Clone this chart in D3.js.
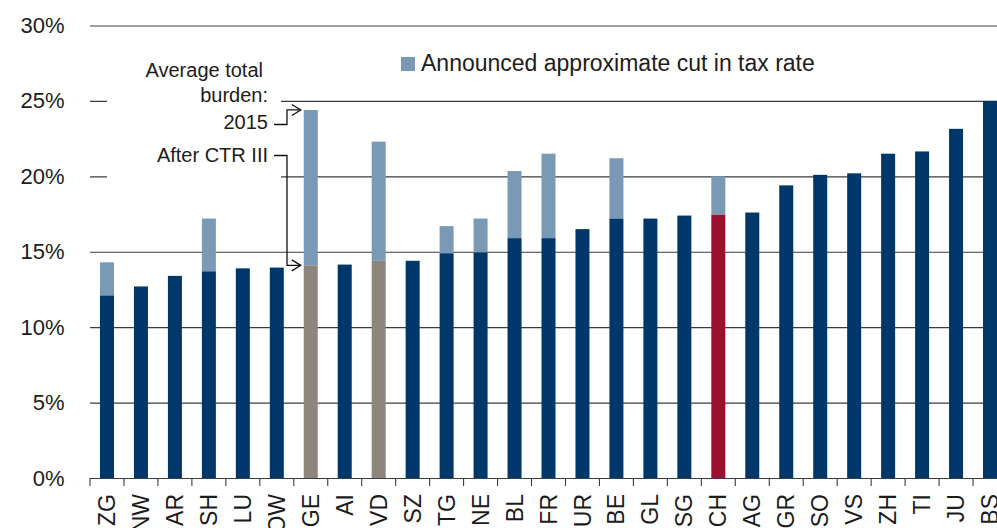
<!DOCTYPE html>
<html>
<head>
<meta charset="utf-8">
<script src="https://cdn.jsdelivr.net/npm/d3@7"></script>
<style>
  body { margin: 0; background: #fff; }
  svg { display: block; font-family: "Liberation Sans", Arial, sans-serif; }
</style>
</head>
<body>
<div id="chart"></div>
<script>

// Cantons, sorted by effective tax burden after CTR III:
var cantons = ['ZG','NW','AR','SH','LU','OW','GE','AI','VD','SZ','TG','NE','BL','FR','UR','BE','GL','SG','CH','AG','GR','SO','VS','ZH','TI','JU','BS'];

// Average total burden after CTR III (%):
var afterCTR = [12.1,12.7,13.4,13.7,13.9,13.95,14.1,14.15,14.4,14.4,14.9,14.95,15.9,15.9,16.5,17.2,17.2,17.4,17.45,17.6,19.4,20.1,20.2,21.5,21.65,23.15,25.0];

// Average total burden 2015 (%), null where no cut is announced:
var burden2015 = [14.3,null,null,17.2,null,null,24.4,null,22.3,null,16.7,17.2,20.35,21.5,null,21.2,null,null,20.0,null,null,null,null,null,null,null,null];

// Bars with a special colour:
var greyCantons = ['GE','VD'],
	redCantons = ['CH'];

var yTicks = [0,5,10,15,20,25,30];

var legendLabel = 'Announced approximate cut in tax rate',
	noteBefore = ['Average total', 'burden:', '2015'],
	noteAfter = 'After CTR III';

var colors = {
	dark: '#00376a',
	cut: '#7a99b5',
	grey: '#8e857c',
	red: '#9c0f2e',
	text: '#1c1c1c',
	grid: '#3c3c3c'
};

var width = 997,
	height = 528,
	plotLeft = 90,
	plotRight = 1007,	// the chart is cropped at the right edge
	plotTop = 25.5,
	plotBottom = 478,
	barWidth = 14;

var svg = d3.select('#chart').append('svg')
	.attr('width', width)
	.attr('height', height);

var x = d3.scaleBand()
	.domain(cantons)
	.range([plotLeft, plotRight])
	.paddingInner(0.588)
	.paddingOuter(0.294);

var y = d3.scaleLinear()
	.domain([0, 30])
	.range([plotBottom, plotTop]);

var gap = x.step() - x.bandwidth();

// Gridlines and y labels:
var yAxis = svg.append('g')
	.attr('transform', 'translate(' + plotLeft + ',0)')
	.call(d3.axisLeft(y)
		.tickValues(yTicks)
		.tickSize(-(plotRight - plotLeft))
		.tickPadding(25.5)
		.tickFormat(function(d) { return d + '%'; }));

yAxis.select('.domain').remove();
yAxis.selectAll('line')
	.attr('stroke', colors.grid)
	.attr('stroke-width', 1.1);
yAxis.selectAll('text')
	.attr('fill', colors.text)
	.style('font-size', '22px');

// Category ticks at the band boundaries:
var bounds = cantons.map(function(d) { return x(d) - gap / 2; });
bounds.push(x(cantons[cantons.length - 1]) + x.bandwidth() + gap / 2);

svg.append('g').selectAll('line')
	.data(bounds)
	.join('line')
		.attr('x1', function(d) { return d; })
		.attr('x2', function(d) { return d; })
		.attr('y1', plotBottom)
		.attr('y2', plotBottom + 8)
		.attr('stroke', colors.grid)
		.attr('stroke-width', 1.1);

// Rotated category labels:
var xAxis = svg.append('g')
	.attr('transform', 'translate(0,' + plotBottom + ')')
	.call(d3.axisBottom(x).tickSize(0).tickSizeOuter(0));

xAxis.select('.domain').remove();
xAxis.selectAll('text')
	.attr('transform', 'rotate(-90)')
	.attr('x', -16)
	.attr('y', 0)
	.attr('dy', '0.35em')
	.attr('fill', colors.text)
	.style('text-anchor', 'end')
	.style('font-size', '23px');

// Bars:
var rows = cantons.map(function(c, i) {
	return { canton: c, after: afterCTR[i], before: burden2015[i] };
});

var bars = svg.append('g');

bars.selectAll('rect.cut')
	.data(rows.filter(function(d) { return d.before !== null; }))
	.join('rect')
		.attr('class', 'cut')
		.attr('x', function(d) { return x(d.canton) + (x.bandwidth() - barWidth) / 2; })
		.attr('width', barWidth)
		.attr('y', function(d) { return y(d.before); })
		.attr('height', function(d) { return y(d.after) - y(d.before); })
		.attr('fill', colors.cut);

bars.selectAll('rect.after')
	.data(rows)
	.join('rect')
		.attr('class', 'after')
		.attr('x', function(d) { return x(d.canton) + (x.bandwidth() - barWidth) / 2; })
		.attr('width', barWidth)
		.attr('y', function(d) { return y(d.after); })
		.attr('height', function(d) { return y(0) - y(d.after); })
		.attr('fill', function(d) {
			if (greyCantons.indexOf(d.canton) > -1) { return colors.grey; }
			if (redCantons.indexOf(d.canton) > -1) { return colors.red; }
			return colors.dark;
		});

// Annotation (white box hides the gridlines behind the text):
svg.append('rect')
	.attr('x', 107)
	.attr('y', 50)
	.attr('width', 174)
	.attr('height', 135)
	.attr('fill', '#fff');

var note = svg.append('g')
	.attr('fill', colors.text)
	.style('font-size', '20px')
	.style('text-anchor', 'end');

note.append('text').attr('x', 263).attr('y', 76.5).text(noteBefore[0]);
note.append('text').attr('x', 268).attr('y', 102).text(noteBefore[1]);
note.append('text').attr('x', 268).attr('y', 128.5).text(noteBefore[2]);
note.append('text').attr('x', 268).attr('y', 161.5).text(noteAfter);

var ge = rows[cantons.indexOf('GE')],
	tipX = x('GE') - 3,
	elbowX = 287;

function arrow( fromY, toY ) {
	var g = svg.append('g')
		.attr('fill', 'none')
		.attr('stroke', '#111')
		.attr('stroke-width', 1.3);
	g.append('path')
		.attr('d', 'M274,' + fromY + 'H' + elbowX + 'V' + toY + 'H' + tipX);
	g.append('path')
		.attr('d', 'M' + (tipX - 9) + ',' + (toY - 5.5) + 'L' + tipX + ',' + toY + 'L' + (tipX - 9) + ',' + (toY + 5.5));
}

arrow(124.5, y(ge.before));
arrow(155.5, y(ge.after));

// Legend:
var legend = svg.append('g');
legend.append('rect')
	.attr('x', 401)
	.attr('y', 57)
	.attr('width', 14)
	.attr('height', 14)
	.attr('fill', colors.cut);
legend.append('text')
	.attr('x', 421)
	.attr('y', 70.5)
	.attr('fill', colors.text)
	.style('font-size', '23px')
	.text(legendLabel);

</script>
</body>
</html>
